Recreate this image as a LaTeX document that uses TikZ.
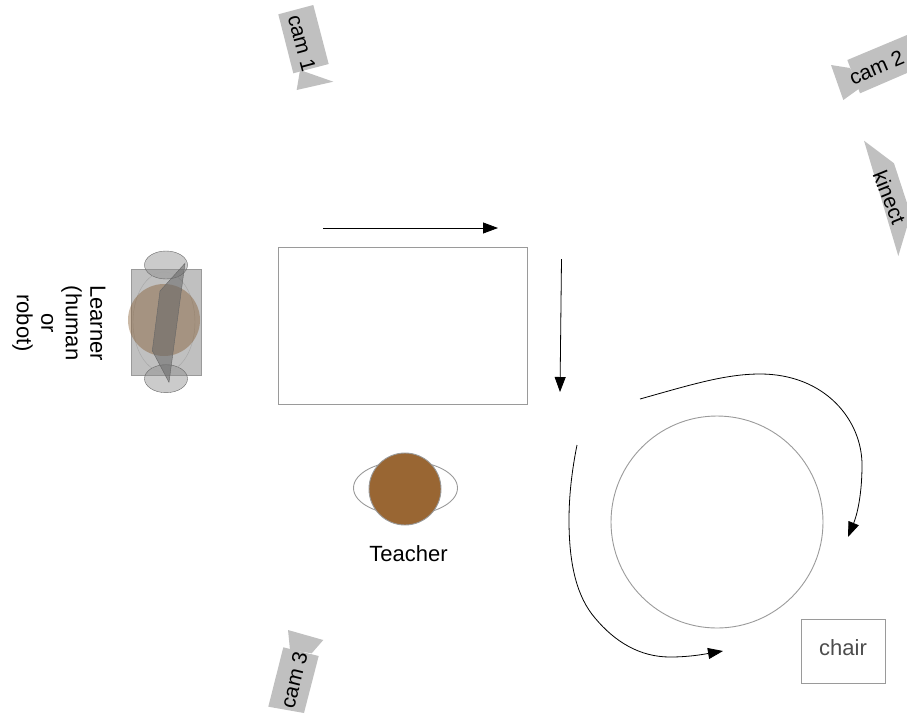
\documentclass[tikz,border=0pt]{standalone}
\usepackage{fontspec}
\setmainfont{Liberation Sans}
\usetikzlibrary{arrows.meta,calc}
\definecolor{camgray}{HTML}{C0C0C0}
\definecolor{edgegray}{HTML}{9A9A9A}
\definecolor{teacherbrown}{HTML}{996633}
\tikzset{
  label/.style={font=\fontsize{22}{24.5}\selectfont,inner sep=0pt,align=center},
  camtext/.style={font=\fontsize{21}{24}\selectfont,inner sep=0pt},
  route/.style={black,line width=0.8pt,-{Triangle[length=15pt,width=11pt]}},
  furniture/.style={draw=edgegray,line width=0.9pt}
}
\begin{document}
\begin{tikzpicture}[x=1pt,y=-1pt]
  \useasboundingbox (0,0) rectangle (907,713);
  % cameras
  \fill[camgray] (300,70) -- (333.3,81.7) -- (296.7,90) -- cycle;
  \fill[camgray] (278.3,14.3) -- (313.3,5) -- (328.7,64) -- (293.3,73.3) -- cycle;
  \node[camtext,rotate=-75] (cam1) at (302,43) {cam 1};
  \fill[camgray] (831,65) -- (850,68) -- (860,88) -- (843.3,100) -- cycle;
  \fill[camgray] (847.3,60) -- (907,35) -- (907,73) -- (860,93.3) -- cycle;
  \node[camtext,rotate=23] (cam2) at (876.5,67.5) {cam 2};
  \fill[camgray] (864,140.7) -- (894,163.3) -- (907,203) -- (907,227) -- (898.3,256) -- cycle;
  \node[camtext,rotate=-68] (kinect) at (889.5,197.5) {kinect};
  \fill[camgray] (288,630) -- (323.3,640) -- (311.7,653.3) -- (290,650) -- cycle;
  \fill[camgray] (283.3,647.3) -- (318.7,656) -- (304,713) -- (268.3,706.7) -- cycle;
  \node[camtext,rotate=76] (cam3) at (294,680) {cam 3};
  % learner
  \draw[edgegray,fill=camgray] (130.7,269.3) rectangle (201,375);
  \foreach \y in {265,378.7} {
    \draw[black!60,fill=black!45,fill opacity=0.45] (166,\y) ellipse (21.5 and 14);
  }
  \draw[black!35,line width=0.4pt] (164,322) ellipse (31 and 50);
  \fill[teacherbrown!85!black,opacity=0.42] (164,320) circle (36);
  \draw[black!60,fill=black!60,fill opacity=0.55] (185,263.3) -- (160,291) -- (152.3,350.7) -- (169,382.3) -- cycle;
  \node[label,rotate=-90] (learner) at (59,323) {Learner\\(human\\or\\robot)};
  % table and teacher
  \draw[furniture] (278,247) rectangle (527,404);
  \draw[furniture] (405.5,488) ellipse (52 and 27);
  \draw[furniture,fill=teacherbrown] (405,489) circle (36);
  \node[label] (teacher) at (408.5,554) {Teacher};
  % round table and chair
  \draw[furniture] (717,522) circle (106);
  \node[furniture,minimum width=84pt,minimum height=64pt,inner sep=0pt,text=black!70,text depth=6pt,font=\fontsize{22}{24}\selectfont] (chair) at (843,651) {chair};
  % walking route
  \coordinate (a1) at (323,228);
  \coordinate (a2) at (498,228);
  \coordinate (b1) at (561.5,259);
  \coordinate (b2) at (560,392);
  \coordinate (c1) at (640,399);
  \coordinate (c2) at (848,537);
  \coordinate (d1) at (577,445);
  \coordinate (d2) at (723,651);
  \draw[route] (a1) -- (a2);
  \draw[route] (b1) -- (b2);
  \draw[route] (c1) .. controls (690,385) and (725,374) .. (760,374)
    .. controls (825,374) and (862,420) .. (862,465)
    .. controls (862,495) and (857,515) .. (c2);
  \draw[route] (d1) .. controls (572,470) and (569,495) .. (569,520)
    .. controls (569,565) and (577,597) .. (595,618)
    .. controls (615,642) and (640,657) .. (670,657)
    .. controls (690,657) and (705,654) .. (d2);
\end{tikzpicture}
\end{document}
